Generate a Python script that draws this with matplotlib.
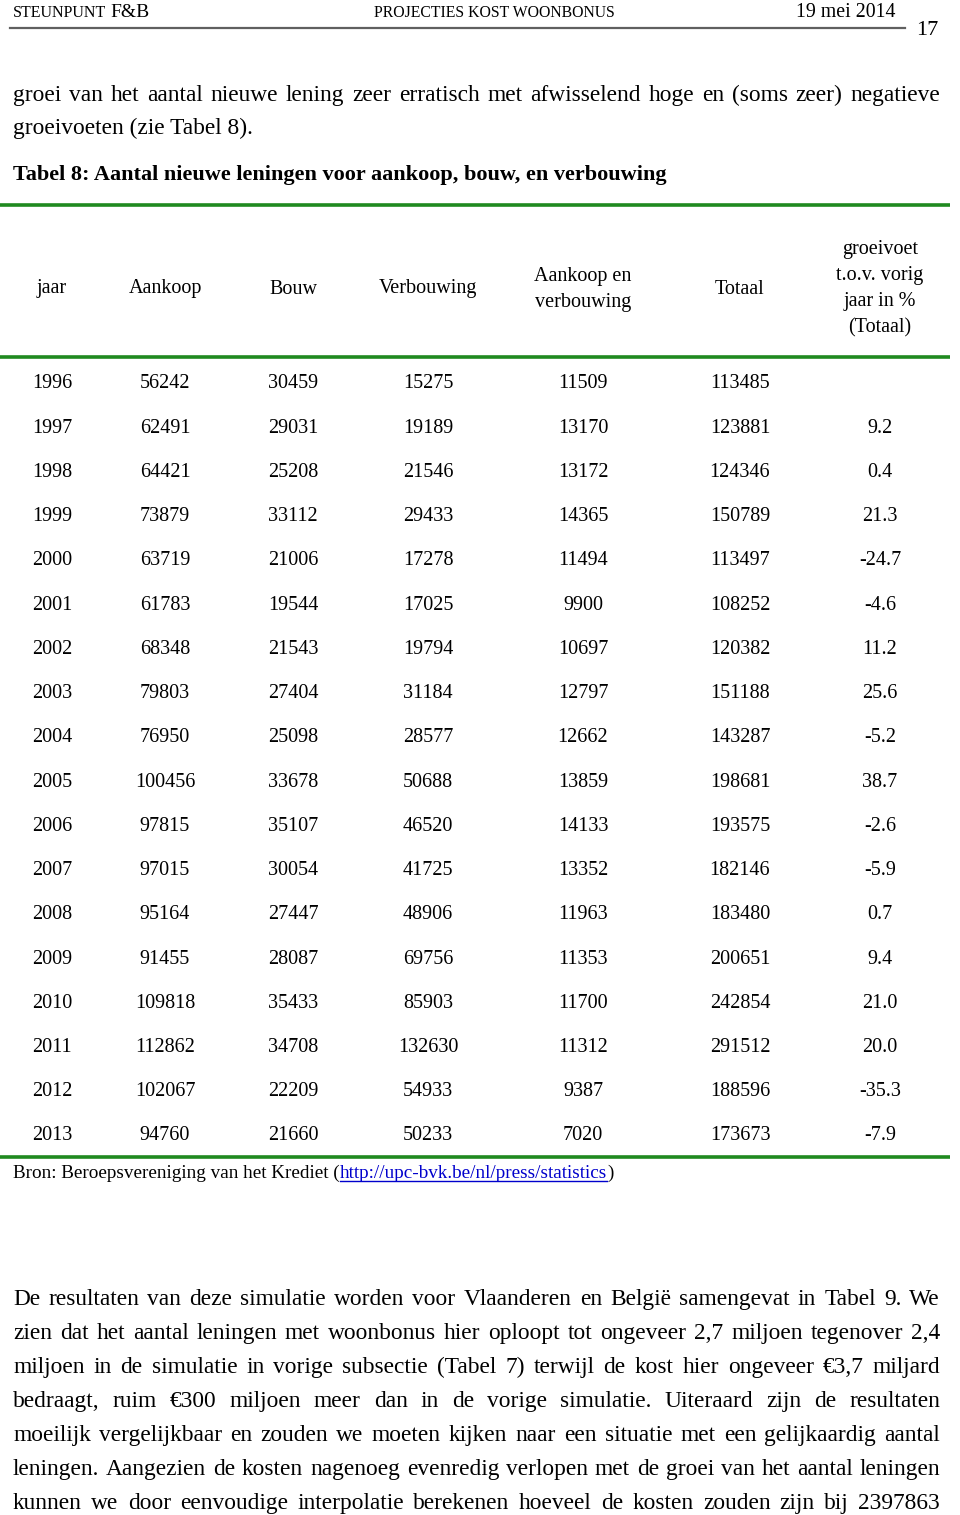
import matplotlib
matplotlib.use("Agg")
import matplotlib.pyplot as plt

# ---- data ----
columns = ["jaar", "Aankoop", "Bouw", "Verbouwing", "Aankoop en\nverbouwing", "Totaal",
           "groeivoet\nt.o.v. vorig\njaar in %\n(Totaal)"]
years = [1996, 1997, 1998, 1999, 2000, 2001, 2002, 2003, 2004, 2005, 2006, 2007, 2008,
         2009, 2010, 2011, 2012, 2013]
aankoop = [56242, 62491, 64421, 73879, 63719, 61783, 68348, 79803, 76950, 100456, 97815,
           97015, 95164, 91455, 109818, 112862, 102067, 94760]
bouw = [30459, 29031, 25208, 33112, 21006, 19544, 21543, 27404, 25098, 33678, 35107,
        30054, 27447, 28087, 35433, 34708, 22209, 21660]
verbouwing = [15275, 19189, 21546, 29433, 17278, 17025, 19794, 31184, 28577, 50688, 46520,
              41725, 48906, 69756, 85903, 132630, 54933, 50233]
aankoop_verbouwing = [11509, 13170, 13172, 14365, 11494, 9900, 10697, 12797, 12662, 13859,
                      14133, 13352, 11963, 11353, 11700, 11312, 9387, 7020]
totaal = [113485, 123881, 124346, 150789, 113497, 108252, 120382, 151188, 143287, 198681,
          193575, 182146, 183480, 200651, 242854, 291512, 188596, 173673]
groeivoet = ["", "9.2", "0.4", "21.3", "-24.7", "-4.6", "11.2", "25.6", "-5.2", "38.7",
             "-2.6", "-5.9", "0.7", "9.4", "21.0", "20.0", "-35.3", "-7.9"]

para1 = ["groei van het aantal nieuwe lening zeer erratisch met afwisselend hoge en (soms zeer) negatieve",
         "groeivoeten (zie Tabel 8)."]
title = "Tabel 8: Aantal nieuwe leningen voor aankoop, bouw, en verbouwing"
para2 = ["De resultaten van deze simulatie worden voor Vlaanderen en België samengevat in Tabel 9. We",
         "zien dat het aantal leningen met woonbonus hier oploopt tot ongeveer 2,7 miljoen tegenover 2,4",
         "miljoen in de simulatie in vorige subsectie (Tabel 7) terwijl de kost hier ongeveer €3,7 miljard",
         "bedraagt, ruim €300 miljoen meer dan in de vorige simulatie. Uiteraard zijn de resultaten",
         "moeilijk vergelijkbaar en zouden we moeten kijken naar een situatie met een gelijkaardig aantal",
         "leningen. Aangezien de kosten nagenoeg evenredig verlopen met de groei van het aantal leningen",
         "kunnen we door eenvoudige interpolatie berekenen hoeveel de kosten zouden zijn bij 2397863"]

FONT = "Liberation Serif"
W, H = 960, 1515
fig = plt.figure(figsize=(W / 100, H / 100), dpi=100)
ax = fig.add_axes([0, 0, 1, 1])
ax.set_xlim(0, W)
ax.set_ylim(H, 0)
ax.axis("off")
renderer = fig.canvas.get_renderer()


def justify(line, y, x0, x1, size, weight="normal"):
    words = line.split(" ")
    objs = [ax.text(0, y, w, fontsize=size, family=FONT, weight=weight, va="baseline", ha="left")
            for w in words]
    widths = [o.get_window_extent(renderer).width for o in objs]
    gap = (x1 - x0 - sum(widths)) / max(len(words) - 1, 1)
    x = x0
    for o, w in zip(objs, widths):
        o.set_x(x)
        x += w + gap


# ---- page header ----
st = ax.text(13, 17, "STEUNPUNT", fontsize=11.5, family=FONT, va="baseline", ha="left")
sb = st.get_window_extent(renderer)
ax.text(sb.x1 + 4, 17, "F&B", fontsize=14, family=FONT, va="baseline", ha="left")
ax.text(494, 17, "PROJECTIES KOST WOONBONUS", fontsize=11.3, family=FONT, va="baseline", ha="center")
ax.text(895, 17, "19 mei 2014", fontsize=14.3, family=FONT, va="baseline", ha="right")
ax.plot([10, 905], [28, 28], color="#606060", lw=1.6)
ax.text(927, 35, "17", fontsize=16, family=FONT, va="baseline", ha="center")

# ---- paragraph above table ----
body = 16.8
justify(para1[0], 101, 13, 940, body)
ax.text(13, 134, para1[1], fontsize=body, family=FONT, va="baseline", ha="left")
ax.text(13, 180, title, fontsize=16.0, family=FONT, weight="bold", va="baseline", ha="left")

# ---- table ----
green = "#1f8a1f"
for yy in (205, 357, 1157):
    ax.plot([0, 950], [yy, yy], color=green, lw=2.6, solid_capstyle="butt")

col_x = [52, 165, 293, 428, 583, 740, 880]
tsize = 14.5
for cx, lab in zip(col_x, columns):
    ax.text(cx, 289, lab, fontsize=tsize, family=FONT, va="center", ha="center",
            linespacing=1.5)

row0, dy = 384, (1134 - 382) / 17
for i, yr in enumerate(years):
    y = row0 + i * dy
    vals = [yr, aankoop[i], bouw[i], verbouwing[i], aankoop_verbouwing[i], totaal[i], groeivoet[i]]
    for cx, v in zip(col_x, vals):
        ax.text(cx, y, str(v), fontsize=tsize, family=FONT, va="center", ha="center")

# ---- source ----
ssize = 13.8
src = ax.text(13, 1178, "Bron: Beroepsvereniging van het Krediet (", fontsize=ssize, family=FONT,
              va="baseline", ha="left")
bb = src.get_window_extent(renderer)
link = ax.text(bb.x1, 1178, "http://upc-bvk.be/nl/press/statistics", fontsize=ssize, family=FONT,
               va="baseline", ha="left", color="#0000cc")
lb = link.get_window_extent(renderer)
ax.plot([lb.x0, lb.x1], [1180.5, 1180.5], color="#0000cc", lw=1)
ax.text(lb.x1, 1178, ")", fontsize=ssize, family=FONT, va="baseline", ha="left")

# ---- paragraph below table ----
for k, line in enumerate(para2):
    justify(line, 1305 + k * 34, 13, 940, body)

fig.savefig("out.png", dpi=100, facecolor="white")
